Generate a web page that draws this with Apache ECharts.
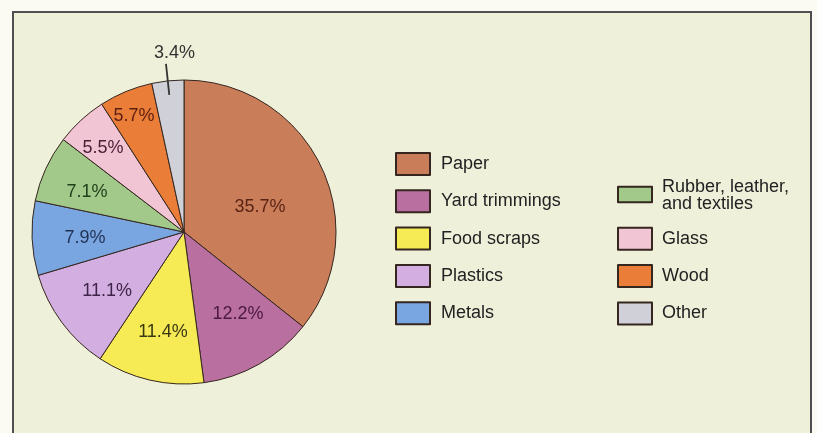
<!DOCTYPE html>
<html>
<head>
<meta charset="utf-8">
<script src="https://cdn.jsdelivr.net/npm/echarts@6/dist/echarts.min.js"></script>
<style>
	html, body { margin: 0; padding: 0; background: #fbfbf3; }
	#chart { width: 817px; height: 433px; }
</style>
</head>
<body>
<div id="chart"></div>
<script>
	var categories = [ "Paper", "Yard trimmings", "Food scraps", "Plastics", "Metals",
		"Rubber, leather, and textiles", "Glass", "Wood", "Other" ];
	var shares = [ 35.7, 12.2, 11.4, 11.1, 7.9, 7.1, 5.5, 5.7, 3.4 ];
	var leftLegend = [ "Paper", "Yard trimmings", "Food scraps", "Plastics", "Metals" ];
	var rightLegend = [ "Rubber, leather, and textiles", "Glass", "Wood", "Other" ];

	// styling
	var fills = [ '#c97d59', '#b96f9f', '#f6ea55', '#d3aee0', '#79a5e0',
		'#a2c98a', '#f2c5d5', '#ea7e38', '#cfd0d8' ];
	var inks = [ '#5a2414', '#4a1a42', '#3a3812', '#3e2448', '#1f3152',
		'#22401c', '#4c1c34', '#5c1e10', '#333333' ];
	// inside label spot: share of the radius, and turn (deg) off the slice middle
	var spotR = [ 0.526, 0.646, 0.672, 0.638, 0.653, 0.691, 0.768, 0.828, 0 ];
	var spotTurn = [ 7.5, -3.9, -1.1, -1.0, -1.2, -2.0, -1.3, -0.9, 0 ];
	var CX = 184, CY = 232, R = 152;
	var font = '"Liberation Sans", Arial, sans-serif';

	var total = 0;
	shares.forEach(function(v) { total += v; });
	var midAngle = [];
	var run = 0;
	shares.forEach(function(v) {
		midAngle.push((run + v / 2) / total * 360);
		run += v;
	});

	var isOther = function(i) { return categories[i] == 'Other'; };

	var legendBase = function(names, left, top, textPad) {
		return {
			orient : 'vertical',
			left : left,
			top : top,
			padding : 0,
			itemWidth : 34,
			itemHeight : 22,
			itemGap : 13.3,
			selectedMode : false,
			icon : 'rect',
			data : names.map(function(n) {
				if (n.indexOf('Rubber') == 0) {
					// flatter box, sitting a bit high
					return { name : n, icon : 'path://M0,0H35V16H0Z M0,19' };
				}
				return n;
			}),
			formatter : function(n) {
				return n.replace(', and', ',\nand');
			},
			textStyle : {
				fontFamily : font,
				fontSize : 18,
				lineHeight : 17,
				color : '#222',
				padding : [ 0, 0, 0, textPad ]
			}
		};
	};

	var chart = echarts.init(document.getElementById('chart'));
	var option = {
		animation : false,
		color : fills,
		graphic : [ {
			type : 'rect',
			z : -10,
			shape : { x : 13, y : 12, width : 798, height : 440 },
			style : { fill : '#eff0da', stroke : '#505050', lineWidth : 2 }
		} ],
		legend : [ legendBase(leftLegend, 395, 152, 6),
				legendBase(rightLegend, 617, 178.5, 5) ],
		series : [ {
			type : 'pie',
			center : [ CX, CY ],
			radius : [ 0, R ],
			startAngle : 90,
			clockwise : true,
			avoidLabelOverlap : false,
			itemStyle : {
				borderColor : '#35261f',
				borderWidth : 1
			},
			label : {
				position : 'inside',
				formatter : '{c}%',
				fontFamily : font,
				fontSize : 18
			},
			labelLine : { show : false },
			emphasis : { disabled : true },
			labelLayout : function(p) {
				var i = p.dataIndex;
				var ang = (midAngle[i] + spotTurn[i]) * Math.PI / 180;
				var r = R * spotR[i];
				return {
					x : CX + r * Math.sin(ang),
					y : CY - r * Math.cos(ang),
					align : 'center',
					verticalAlign : 'middle'
				};
			},
			data : categories.map(function(name, i) {
				return {
					name : name,
					value : shares[i],
					label : { color : inks[i], show : !isOther(i) }
				};
			})
		}, {
			// clear, smaller copy on top: its leader starts inside the thin slice
			type : 'pie',
			z : 3,
			silent : true,
			center : [ CX, CY ],
			radius : [ 0, R - 14 ],
			startAngle : 90,
			clockwise : true,
			avoidLabelOverlap : false,
			itemStyle : { color : 'rgba(0,0,0,0)', borderWidth : 0 },
			label : {
				position : 'outside',
				// empty second line lifts the text above the leader end
				formatter : '{c}%\n ',
				fontFamily : font,
				fontSize : 18,
				lineHeight : 21,
				color : '#333',
				distanceToLabelLine : -29
			},
			labelLine : {
				length : 31,
				length2 : 0,
				lineStyle : { color : '#333', width : 1.8 }
			},
			emphasis : { disabled : true },
			data : categories.map(function(name, i) {
				return {
					name : name,
					value : shares[i],
					label : { show : isOther(i) },
					labelLine : { show : isOther(i) }
				};
			})
		} ]
	};
	chart.setOption(option);
</script>
</body>
</html>
